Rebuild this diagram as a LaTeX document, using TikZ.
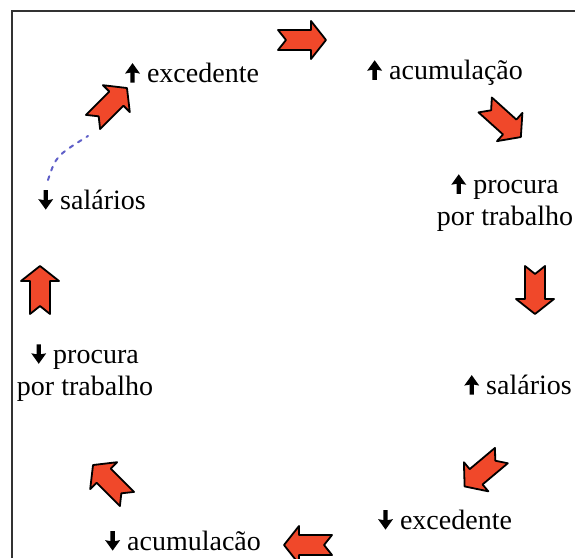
\documentclass[tikz,border=0pt]{standalone}
\usepackage{fontspec}
\setmainfont{Liberation Serif}
\definecolor{arrred}{RGB}{240,72,42}
\definecolor{framegray}{RGB}{50,50,50}
\definecolor{penblue}{RGB}{95,95,200}
\newcommand{\upa}{\tikz[baseline=0pt, x=1pt, y=1pt]{\fill[black, line join=round] (-2.2,0) -- (-2.2,10) -- (-7.5,9) -- (0,19.5) -- (7.5,9) -- (2.2,10) -- (2.2,0) -- cycle;}}
\newcommand{\dna}{\tikz[baseline=0pt, x=1pt, y=1pt]{\fill[black, line join=round] (-2.2,19.5) -- (-2.2,9.5) -- (-7.5,10.5) -- (0,0) -- (7.5,10.5) -- (2.2,9.5) -- (2.2,19.5) -- cycle;}}
\tikzset{
  lbl/.style={font=\fontsize{28}{32}\selectfont, align=center, inner sep=0pt},
  notcharrow/.pic={
    \filldraw[fill=arrred, draw=black, line width=1.8pt, line join=round]
      (-24,10) -- (9,10) -- (9,19) -- (24,0) -- (9,-19) -- (9,-10)
      -- (-24,-10) -- (-16,0) -- cycle;
  }
}
\begin{document}
\begin{tikzpicture}[x=1pt,y=1pt]
\useasboundingbox (0,0) rectangle (575,558);
% frame
\coordinate (fb) at (12,0);
\coordinate (fc) at (12,547);
\coordinate (fr) at (575,547);
\draw[framegray, line width=2.2pt] (fb) -- (fc) -- (fr);
% labels
\node[lbl] (exup) at (192,485) {\upa\ excedente};
\node[lbl] (acup) at (445,485) {\upa\ acumulação};
\node[lbl] (prup) at (505,355) {\upa\ procura\\por trabalho};
\node[lbl] (salup) at (518,173) {\upa\ salários};
\node[lbl] (exdn) at (445,38) {\dna\ excedente};
\node[lbl] (acdn) at (183,17) {\dna\ acumulacão};
\node[lbl] (prdn) at (85,185) {\dna\ procura\\por trabalho};
\node[lbl] (saldn) at (92,358) {\dna\ salários};
% block arrows
\pic[rotate=0] at (302,518) {notcharrow};
\pic[rotate=-42] at (503,437) {notcharrow};
\pic[rotate=-90] at (535,268) {notcharrow};
\pic[rotate=-140] at (483,87) {notcharrow};
\pic[rotate=180] at (308,13) {notcharrow};
\pic[rotate=135] at (110,76) {notcharrow};
\pic[rotate=90] at (40,268) {notcharrow};
\pic[rotate=45] at (110,453) {notcharrow};
% blue pen marks
\coordinate (pa) at (48,378);
\coordinate (pb) at (88,422);
\draw[penblue, line width=2pt, dash pattern=on 4pt off 6pt, line cap=round]
  (pa) .. controls (56,402) .. (pb);
\end{tikzpicture}
\end{document}
